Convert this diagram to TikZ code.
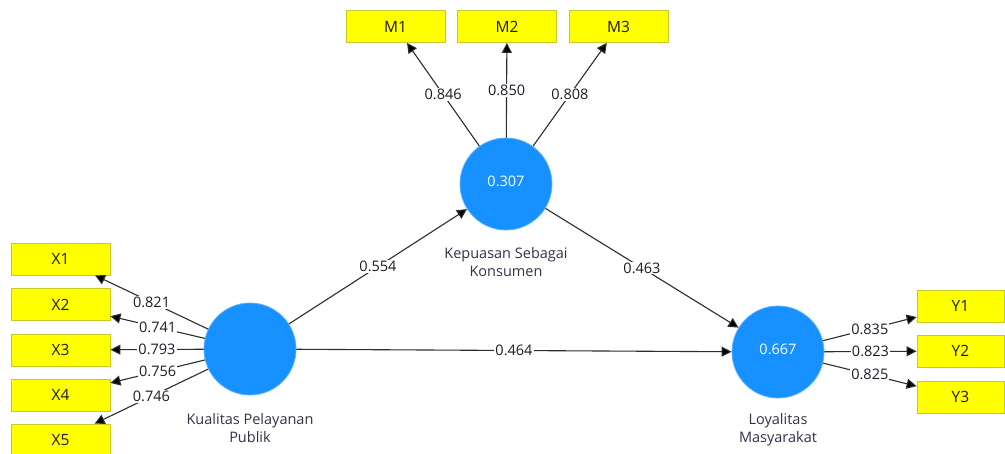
\documentclass[tikz,border=0pt]{standalone}
\usepackage{fontspec}
\setmainfont{Open Sans}
\usetikzlibrary{arrows.meta}
\definecolor{lvblue}{RGB}{22,145,255}
\definecolor{lvedge}{RGB}{95,178,255}
\definecolor{indyel}{RGB}{255,255,0}
\definecolor{indedge}{RGB}{200,200,40}
\definecolor{linec}{RGB}{45,45,45}
\definecolor{captc}{RGB}{50,50,75}
\definecolor{numc}{RGB}{30,25,40}
\begin{document}
\begin{tikzpicture}[x=1pt,y=-1pt, font=\fontsize{14.5}{18}\selectfont,
  lv/.style={circle, fill=lvblue, draw=lvedge, line width=0.8pt, minimum size=92pt, inner sep=0pt, text=white},
  ind/.style={rectangle, fill=indyel, draw=indedge, line width=0.8pt, minimum width=99pt, minimum height=32pt, inner sep=0pt, text=numc, font=\fontsize{15.5}{18}\selectfont},
  conn/.style={draw=linec, line width=1.1pt, -{Triangle[length=10pt,width=10pt,fill=black]}},
  lab/.style={fill=white, inner sep=1pt, text=numc, pos=0.5},
  capt/.style={text=captc, align=center}]
\useasboundingbox (0,0) rectangle (1005,453);
\clip (0,0) rectangle (1005,453);
\fill[white] (0,0) rectangle (1005,453);
% latent variables
\node[lv] (kpp) at (250,349) {};
\node[lv] (ksk) at (506,184) {\raisebox{6pt}{0.307}};
\node[lv] (lm) at (778,352) {\raisebox{6pt}{0.667}};
% captions
\node[capt] (ckpp) at (250,428) {Kualitas Pelayanan\\Publik};
\node[capt] (cksk) at (506,262) {Kepuasan Sebagai\\Konsumen};
\node[capt] (clm) at (778,430) {Loyalitas\\Masyarakat};
% indicators
\node[ind] (X1) at (60.5,259) {X1};
\node[ind] (X2) at (60.5,304.5) {X2};
\node[ind] (X3) at (60.5,350) {X3};
\node[ind] (X4) at (60.5,395) {X4};
\node[ind] (X5) at (60.5,440) {X5};
\node[ind] (M1) at (395.5,26.5) {M1};
\node[ind] (M2) at (507,26.5) {M2};
\node[ind] (M3) at (618.5,26.5) {M3};
\node[ind, minimum width=87pt] (Y1) at (960.5,306) {Y1};
\node[ind, minimum width=87pt] (Y2) at (960.5,351) {Y2};
\node[ind, minimum width=87pt] (Y3) at (960.5,397) {Y3};
% structural paths
\draw[conn] (kpp) -- node[lab]{0.554} (ksk);
\draw[conn] (ksk) -- node[lab]{0.463} (lm);
\draw[conn] (kpp) -- node[lab]{0.464} (lm);
% loadings
\draw[conn] (kpp) -- node[lab]{0.821} (X1);
\draw[conn] (kpp) -- node[lab]{0.741} (X2);
\draw[conn] (kpp) -- node[lab]{0.793} (X3);
\draw[conn] (kpp) -- node[lab]{0.756} (X4);
\draw[conn] (kpp) -- node[lab]{0.746} (X5);
\draw[conn] (ksk) -- node[lab]{0.846} (M1);
\draw[conn] (ksk) -- node[lab]{0.850} (M2);
\draw[conn] (ksk) -- node[lab]{0.808} (M3);
\draw[conn] (lm) -- node[lab]{0.835} (Y1);
\draw[conn] (lm) -- node[lab]{0.823} (Y2);
\draw[conn] (lm) -- node[lab]{0.825} (Y3);
\end{tikzpicture}
\end{document}
